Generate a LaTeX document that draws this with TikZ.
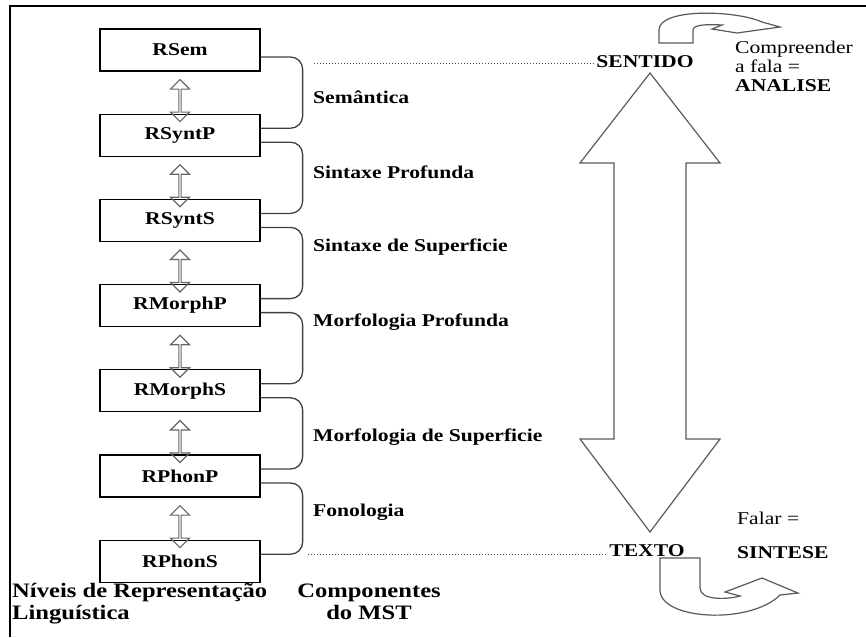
\documentclass[tikz,border=0pt]{standalone}
\usepackage{fontspec}
\setmainfont{Liberation Serif}[FakeStretch=1.2]
\usetikzlibrary{positioning,calc,shapes.arrows}
\tikzset{
	nivel/.style={draw,line width=1.2pt,minimum width=160pt,minimum height=42pt,inner sep=0pt,font=\bfseries\fontsize{18}{19}\selectfont},
	vaivem/.style={draw=black!60,line width=1.2pt,shape=double arrow,rotate=90,minimum height=42pt,minimum width=19pt,double arrow head extend=4.5pt,inner sep=0pt},
	chave/.style={draw=black!75,line width=1.3pt,rounded corners=12pt},
	componente/.style={anchor=west,inner sep=0pt,font=\bfseries\fontsize{18}{19}\selectfont},
	pontilhado/.style={draw=black!70,line width=1pt,dotted},
	polo/.style={inner sep=2pt,font=\bfseries\fontsize{18}{19}\selectfont},
	nota/.style={anchor=west,inner sep=0pt,align=left,font=\fontsize{18}{19}\selectfont},
	legenda/.style={inner sep=0pt,font=\bfseries\fontsize{20.5}{22}\selectfont},
}
\begin{document}
\begin{tikzpicture}[x=1pt,y=-1pt]
		\useasboundingbox (0,0) rectangle (866,637);
		\draw[line width=2pt] (10,637)--(10,6)--(866,6);
		\node[nivel] (rsem) at (180,50) {RSem};
		\node[nivel,below=42pt of rsem] (rsyntp) {RSyntP};
		\node[nivel,below=42pt of rsyntp] (rsynts) {RSyntS};
		\node[nivel,below=42pt of rsynts] (rmorphp) {RMorphP};
		\node[nivel,below=42pt of rmorphp] (rmorphs) {RMorphS};
		\node[nivel,below=42pt of rmorphs] (rphonp) {RPhonP};
		\node[nivel,below=42pt of rphonp] (rphons) {RPhonS};
		\node[vaivem,xshift=-8pt] (v1) at ($(rsem.south)!.5!(rsyntp.north)$) {};
		\node[vaivem,xshift=-8pt] (v2) at ($(rsyntp.south)!.5!(rsynts.north)$) {};
		\node[vaivem,xshift=-8pt] (v3) at ($(rsynts.south)!.5!(rmorphp.north)$) {};
		\node[vaivem,xshift=-8pt] (v4) at ($(rmorphp.south)!.5!(rmorphs.north)$) {};
		\node[vaivem,xshift=-8pt] (v5) at ($(rmorphs.south)!.5!(rphonp.north)$) {};
		\node[vaivem,xshift=-8pt] (v6) at ($(rphonp.south)!.5!(rphons.north)$) {};
		\draw[chave] ([yshift=-7pt]rsem.east)--++(42,0)|-([yshift=7pt]rsyntp.east);
		\draw[chave] ([yshift=-7pt]rsyntp.east)--++(42,0)|-([yshift=7pt]rsynts.east);
		\draw[chave] ([yshift=-7pt]rsynts.east)--++(42,0)|-([yshift=7pt]rmorphp.east);
		\draw[chave] ([yshift=-7pt]rmorphp.east)--++(42,0)|-([yshift=7pt]rmorphs.east);
		\draw[chave] ([yshift=-7pt]rmorphs.east)--++(42,0)|-([yshift=7pt]rphonp.east);
		\draw[chave] ([yshift=-7pt]rphonp.east)--++(42,0)|-([yshift=7pt]rphons.east);
		\node[componente] (semantica) at (313,97) {Semântica};
		\node[componente] (sintprof) at (313,172) {Sintaxe Profunda};
		\node[componente] (sintsup) at (313,247) {Sintaxe de Superficie};
		\node[componente] (morfprof) at (313,322) {Morfologia Profunda};
		\node[componente] (morfsup) at (313,437) {Morfologia de Superficie};
		\node[componente] (fonologia) at (313,512) {Fonologia};
		\node[polo] (sentido) at (645,62) {SENTIDO};
		\node[polo] (texto) at (647,551) {TEXTO};
		\coordinate (topo) at (314,63);
		\coordinate (base) at (308,554);
		\draw[pontilhado] (topo)--(sentido.west|-topo);
		\draw[pontilhado] (base)--(texto.west|-base);
		\begin{scope}[draw=black!65,line width=1.2pt]
			\draw (650,73)--(720,163)--(686,163)--(686,439)--(720,439)--(650,532)--(580,439)--(614,439)--(614,163)--(580,163)--cycle;
			\draw (659,43)--(693,43)--(693,30)..controls(693,25)and(705,24)..(722,25)--(712,29)--(737,33)--(780,27)--(762,22)..controls(735,10)and(659,8)..(659,30)--cycle;
			\draw (660,558)--(700,558)--(700,588)..controls(700,600)and(725,600)..(740,596)--(725,592)--(762,578)--(798,593)--(780,595)..controls(750,625)and(660,620)..(660,590)--cycle;
		\end{scope}
		\node[nota] (analise) at (735,66) {Compreender\\a fala =\\\textbf{ANALISE}};
		\node[nota] (falar) at (737,518) {Falar =};
		\node[nota,font=\bfseries\fontsize{18}{19}\selectfont] (sintese) at (737,553) {SINTESE};
		\node[legenda,anchor=base west] (niveis) at (12,597) {Níveis de Representação};
		\node[legenda,anchor=base west] (linguistica) at (12,619) {Linguística};
		\node[legenda,anchor=base] (componentes) at (369,597) {Componentes};
		\node[legenda,anchor=base] (domst) at (369,619) {do MST};
	\end{tikzpicture}
\end{document}
